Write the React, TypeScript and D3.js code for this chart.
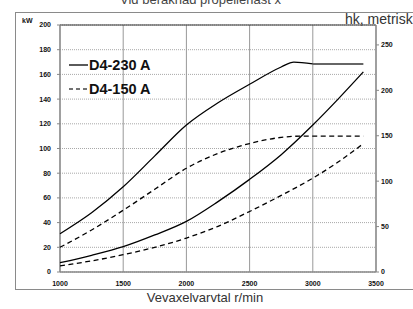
import React from 'react';
import {scaleLinear, line, curveMonotoneX} from 'd3';

// rpm / kW
const rpmPower230 = [1000, 1250, 1500, 1750, 2000, 2250, 2500, 2750, 2850, 3000];
const kwPower230 = [31, 48, 69, 94, 119, 137, 152, 166, 170, 168.5];
const rpmLimit230 = [3000, 3400];
const kwLimit230 = [168.5, 168.5];

const rpmProp230 = [1000, 1250, 1500, 1750, 2000, 2250, 2500, 2750, 3000, 3200, 3400];
const kwProp230 = [7.5, 13.5, 20.5, 30, 41, 57, 75, 95, 119, 140, 162];

const rpmPower150 = [1000, 1250, 1500, 1750, 2000, 2250, 2500, 2750, 2900, 3000, 3400];
const kwPower150 = [20, 34, 50, 67, 84, 96, 104, 109, 110, 110, 110];

const rpmProp150 = [1000, 1250, 1500, 1750, 2000, 2250, 2500, 2750, 3000, 3200, 3400];
const kwProp150 = [5, 9, 14, 20, 27.5, 37, 49, 62, 76, 89, 104];

const xTicks = [1000, 1500, 2000, 2500, 3000, 3500];
const kwTicks = [0, 20, 40, 60, 80, 100, 120, 140, 160, 180, 200];
const hkTicks = [0, 50, 100, 150, 200, 250];
const legendLabels = ['D4-230 A', 'D4-150 A'];

const width = 413;
const height = 309;
const plot = {left: 60, right: 376, top: 25, bottom: 272};
const KW_PER_HK = 0.7355;

const font = 'Arial, "Liberation Sans", sans-serif';

export default function App() {
  const x = scaleLinear().domain([1000, 3500]).range([plot.left, plot.right]);
  const y = scaleLinear().domain([0, 200]).range([plot.bottom, plot.top]);
  const yHk = scaleLinear().domain([0, 200 / KW_PER_HK]).range([plot.bottom, plot.top]);

  const path = (xs: number[], ys: number[]) =>
    line<number>()
      .x((d) => x(d))
      .y((_, i) => y(ys[i]))
      .curve(curveMonotoneX)(xs) || '';

  const dash = '5,3.5';

  return (
    <svg width={width} height={height} style={{position: 'absolute', left: 0, top: 0, background: '#fff'}}>
      <text x={120} y={4} fontFamily={font} fontSize={13} fill="#444">Vid beräknad propellerlast x</text>
      <rect x={15.5} y={12.5} width={420} height={277} fill="none" stroke="#8a8a8a" />

      {/* grid */}
      {kwTicks.map((t) => (
        <line key={'h' + t} x1={plot.left} x2={plot.right} y1={y(t)} y2={y(t)}
          stroke="#a8a8a8" strokeDasharray="1,1" />
      ))}
      {xTicks.map((t) => (
        <line key={'v' + t} x1={x(t)} x2={x(t)} y1={plot.top} y2={plot.bottom} stroke="#999" />
      ))}
      <line x1={plot.left} x2={plot.right} y1={plot.top} y2={plot.top} stroke="#333" />
      <line x1={plot.left} x2={plot.left} y1={plot.top} y2={plot.bottom} stroke="#888" strokeWidth={1.3} />
      <line x1={plot.left} x2={plot.right} y1={plot.bottom} y2={plot.bottom} stroke="#888" strokeWidth={1.3} />
      <line x1={plot.right} x2={plot.right} y1={plot.top} y2={plot.bottom} stroke="#888" strokeWidth={1.3} />

      {/* left axis */}
      <text x={22} y={23} fontFamily={font} fontSize={7} fontWeight="bold" fill="#111">kW</text>
      {kwTicks.map((t) => (
        <g key={'kl' + t}>
          <line x1={plot.left - 3} x2={plot.left} y1={y(t)} y2={y(t)} stroke="#888" />
          <text x={51} y={y(t)} dy="0.35em" textAnchor="end" fontFamily={font} fontSize={7}
            fontWeight="bold" fill="#111">{t}</text>
        </g>
      ))}

      {/* right axis */}
      <text x={345} y={24} fontFamily={font} fontSize={14} fill="#333">hk, metrisk</text>
      {hkTicks.map((t) => (
        <g key={'hk' + t}>
          <line x1={plot.right} x2={plot.right + 3} y1={yHk(t)} y2={yHk(t)} stroke="#888" />
          <text x={381} y={yHk(t)} dy="0.35em" fontFamily={font} fontSize={7}
            fontWeight="bold" fill="#111">{t}</text>
        </g>
      ))}

      {/* bottom axis */}
      {xTicks.map((t) => (
        <text key={'xl' + t} x={x(t)} y={286} textAnchor="middle" fontFamily={font} fontSize={7}
          fontWeight="bold" fill="#111">{t}</text>
      ))}
      <text x={205} y={302} textAnchor="middle" fontFamily={font} fontSize={13} fill="#333">Vevaxelvarvtal r/min</text>

      {/* curves */}
      <path d={path(rpmPower230, kwPower230)} fill="none" stroke="#000" strokeWidth={1.3} />
      <path d={path(rpmLimit230, kwLimit230)} fill="none" stroke="#666" strokeWidth={2} />
      <path d={path(rpmProp230, kwProp230)} fill="none" stroke="#000" strokeWidth={1.3} />
      <path d={path(rpmPower150, kwPower150)} fill="none" stroke="#000" strokeWidth={1.3} strokeDasharray={dash} />
      <path d={path(rpmProp150, kwProp150)} fill="none" stroke="#000" strokeWidth={1.3} strokeDasharray={dash} />

      {/* legend */}
      {legendLabels.map((l, i) => (
        <g key={l} transform={`translate(69, ${65 + i * 24})`}>
          <line x1={0} x2={19} y1={0} y2={0} stroke={i === 0 ? '#000' : '#444'} strokeWidth={1.3}
            strokeDasharray={i === 0 ? undefined : '4,3'} />
          <text x={20} y={0} dy="0.36em" fontFamily={font} fontSize={14.5} fontWeight="bold" fill="#111">{l}</text>
        </g>
      ))}
    </svg>
  );
}
